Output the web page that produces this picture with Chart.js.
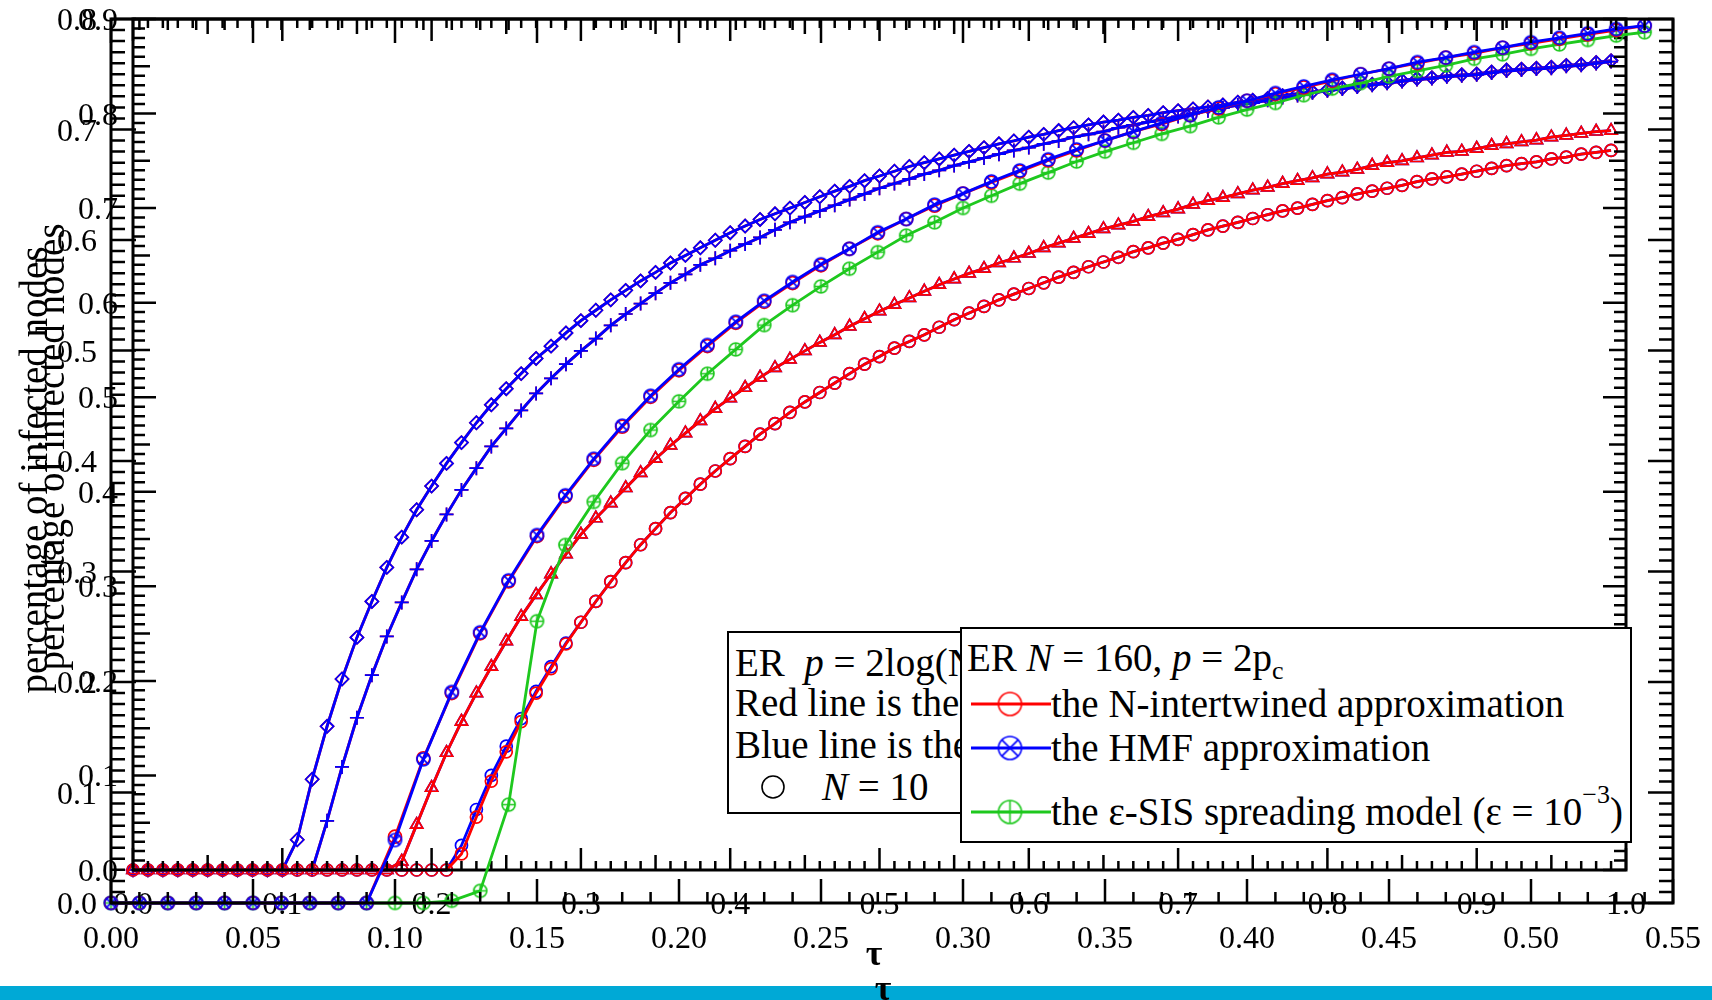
<!DOCTYPE html>
<html>
<head>
<meta charset="utf-8">
<script src="https://cdn.jsdelivr.net/npm/chart.js@4.4.1/dist/chart.umd.min.js"></script>
<style>
  body { margin: 0; background: #fff; font-family: "Liberation Serif", serif; }
  #wrap { position: relative; width: 1712px; height: 1000px; overflow: hidden; }
  canvas.plot { position: absolute; left: 0; top: 0; }
  #band { position: absolute; left: 0; top: 986px; width: 1712px; height: 14px; background: #00a9d6; }
  .box { position: absolute; box-sizing: border-box; background: #fff; border: 2.5px solid #000; overflow: hidden; }
  .row { position: absolute; white-space: nowrap; font-size: 39px; line-height: 40px; color: #000; }
  .sample { position: absolute; }
  .up { position: relative; top: -22px; font-size: 26px; }
  .dn { position: relative; top: 8px; font-size: 26px; }
</style>
</head>
<body>
<div id="wrap">
  <div id="band"></div>
  <canvas id="chartB" class="plot" width="1712" height="1000" style="z-index:1"></canvas>
  <div id="legendB" class="box" style="left:727px;top:631px;width:235px;height:183px;z-index:2">
    <div class="row" style="left:6px;top:10px">ER&nbsp;&nbsp;<i>p</i> = 2log(N)/N</div>
    <div class="row" style="left:6px;top:50px">Red line is the N-intertwined approximation</div>
    <div class="row" style="left:6px;top:92px">Blue line is the HMF approximation</div>
    <canvas id="symN10" class="sample" width="28" height="28" style="left:30px;top:140px"></canvas>
    <div class="row" style="left:93px;top:134px"><i>N</i> = 10</div>
  </div>
  <canvas id="chartA" class="plot" width="1712" height="1000" style="z-index:3"></canvas>
  <div id="legendA" class="box" style="left:960px;top:627px;width:672px;height:216px;z-index:4">
    <div class="row" style="left:5px;top:9px">ER <i>N</i> = 160, <i>p</i> = 2p<span class="dn">c</span></div>
    <canvas id="symRed" class="sample" width="80" height="30" style="left:9px;top:60px"></canvas>
    <div class="row" style="left:89px;top:55px">the N-intertwined approximation</div>
    <canvas id="symBlue" class="sample" width="80" height="30" style="left:9px;top:104px"></canvas>
    <div class="row" style="left:89px;top:99px">the HMF approximation</div>
    <canvas id="symGreen" class="sample" width="80" height="30" style="left:9px;top:168px"></canvas>
    <div class="row" style="left:89px;top:163px">the ε-SIS spreading model (ε = 10<span class="up">−3</span>)</div>
  </div>
</div>
<script>
// ---- ER N = 160 : tau grid and the three curves ----
const tauA = [0.00,0.01,0.02,0.03,0.04,0.05,0.06,0.07,0.08,0.09,
  0.10,0.11,0.12,0.13,0.14,0.15,0.16,0.17,0.18,0.19,
  0.20,0.21,0.22,0.23,0.24,0.25,0.26,0.27,0.28,0.29,
  0.30,0.31,0.32,0.33,0.34,0.35,0.36,0.37,0.38,0.39,
  0.40,0.41,0.42,0.43,0.44,0.45,0.46,0.47,0.48,0.49,
  0.50,0.51,0.52,0.53,0.54];
const aHMF = [0,0,0,0,0,0,0,0,0,0,
  0.057,0.130,0.191,0.245,0.292,0.333,0.369,0.402,0.432,0.459,
  0.483,0.505,0.526,0.545,0.562,0.578,0.592,0.607,0.619,0.632,
  0.642,0.653,0.663,0.673,0.682,0.690,0.698,0.706,0.713,0.720,
  0.726,0.733,0.739,0.745,0.750,0.755,0.761,0.765,0.770,0.774,
  0.779,0.783,0.787,0.791,0.794];
const aNIMFA = [0,0,0,0,0,0,0,0,0,0,
  0.060,0.131,0.190,0.244,0.291,0.332,0.368,0.401,0.431,0.458,
  0.482,0.504,0.525,0.544,0.561,0.577,0.592,0.606,0.619,0.631,
  0.642,0.652,0.662,0.672,0.681,0.690,0.698,0.705,0.713,0.719,
  0.726,0.732,0.738,0.744,0.750,0.755,0.760,0.765,0.769,0.774,
  0.778,0.782,0.786,0.790,0.794];
const aSIS = [0,0,0,0,0,0,0,0,0,0,
  0,0,0.002,0.011,0.089,0.255,0.324,0.363,0.398,0.428,
  0.454,0.479,0.501,0.523,0.541,0.558,0.574,0.589,0.604,0.616,
  0.629,0.640,0.651,0.661,0.671,0.680,0.688,0.696,0.703,0.711,
  0.718,0.724,0.731,0.737,0.742,0.748,0.753,0.758,0.764,0.768,
  0.773,0.777,0.781,0.785,0.788];

// ---- ER p = 2log(N)/N : tau grid and curves for several N ----
const tauB = [0.00,0.01,0.02,0.03,0.04,0.05,0.06,0.07,0.08,0.09,
  0.10,0.11,0.12,0.13,0.14,0.15,0.16,0.17,0.18,0.19,
  0.20,0.21,0.22,0.23,0.24,0.25,0.26,0.27,0.28,0.29,
  0.30,0.31,0.32,0.33,0.34,0.35,0.36,0.37,0.38,0.39,
  0.40,0.41,0.42,0.43,0.44,0.45,0.46,0.47,0.48,0.49,
  0.50,0.51,0.52,0.53,0.54,0.55,0.56,0.57,0.58,0.59,
  0.60,0.61,0.62,0.63,0.64,0.65,0.66,0.67,0.68,0.69,
  0.70,0.71,0.72,0.73,0.74,0.75,0.76,0.77,0.78,0.79,
  0.80,0.81,0.82,0.83,0.84,0.85,0.86,0.87,0.88,0.89,
  0.90,0.91,0.92,0.93,0.94,0.95,0.96,0.97,0.98,0.99];
const bDiamond = [0,0,0,0,0,0,0,0,0,0,
  0,0.032,0.096,0.152,0.202,0.246,0.284,0.320,0.352,0.381,
  0.406,0.430,0.452,0.473,0.492,0.509,0.525,0.541,0.554,0.568,
  0.581,0.592,0.603,0.613,0.623,0.632,0.642,0.650,0.658,0.666,
  0.674,0.681,0.688,0.694,0.700,0.706,0.712,0.718,0.723,0.729,
  0.734,0.739,0.744,0.748,0.752,0.756,0.760,0.764,0.768,0.771,
  0.775,0.778,0.782,0.785,0.788,0.791,0.793,0.796,0.798,0.801,
  0.803,0.805,0.807,0.809,0.812,0.814,0.816,0.819,0.821,0.823,
  0.825,0.827,0.829,0.831,0.833,0.835,0.837,0.838,0.840,0.841,
  0.842,0.844,0.846,0.847,0.848,0.849,0.851,0.852,0.854,0.856];
const bPlus = [0,0,0,0,0,0,0,0,0,0,
  0,0,0,0.052,0.109,0.161,0.206,0.247,0.283,0.318,
  0.348,0.376,0.402,0.425,0.448,0.467,0.486,0.504,0.520,0.535,
  0.549,0.562,0.576,0.588,0.599,0.610,0.621,0.630,0.640,0.647,
  0.655,0.662,0.669,0.677,0.685,0.691,0.697,0.703,0.709,0.715,
  0.721,0.726,0.731,0.736,0.740,0.745,0.749,0.753,0.757,0.761,
  0.764,0.768,0.771,0.775,0.778,0.781,0.785,0.788,0.791,0.794,
  0.797,0.800,0.803,0.806,0.809,0.811,0.814,0.817,0.819,0.822,
  0.824,0.826,0.828,0.830,0.832,0.834,0.836,0.837,0.839,0.840,
  0.841,0.843,0.845,0.846,0.847,0.848,0.850,0.851,0.853,0.855];
const bTriangle = [0,0,0,0,0,0,0,0,0,0,
  0,0,0,0,0,0,0,0,0.009,0.048,
  0.087,0.124,0.157,0.187,0.215,0.242,0.268,0.291,0.313,0.334,
  0.355,0.372,0.388,0.404,0.420,0.435,0.449,0.462,0.475,0.488,
  0.499,0.510,0.521,0.531,0.540,0.549,0.558,0.566,0.575,0.583,
  0.591,0.598,0.605,0.612,0.619,0.625,0.631,0.636,0.642,0.647,
  0.652,0.658,0.663,0.668,0.673,0.678,0.682,0.686,0.691,0.695,
  0.699,0.704,0.708,0.711,0.715,0.719,0.722,0.726,0.729,0.732,
  0.736,0.738,0.741,0.745,0.748,0.750,0.753,0.756,0.759,0.760,
  0.763,0.766,0.768,0.770,0.772,0.775,0.777,0.779,0.781,0.782];
const bCircleRed = [0,0,0,0,0,0,0,0,0,0,
  0,0,0,0,0,0,0,0,0,0,
  0,0,0.017,0.056,0.094,0.125,0.157,0.187,0.213,0.239,
  0.262,0.284,0.305,0.325,0.344,0.361,0.378,0.393,0.408,0.422,
  0.435,0.448,0.461,0.472,0.484,0.495,0.505,0.515,0.525,0.535,
  0.543,0.552,0.559,0.566,0.574,0.582,0.589,0.596,0.603,0.609,
  0.615,0.621,0.627,0.632,0.638,0.643,0.648,0.654,0.658,0.663,
  0.667,0.672,0.677,0.681,0.685,0.689,0.693,0.697,0.700,0.704,
  0.708,0.711,0.715,0.718,0.721,0.724,0.728,0.731,0.733,0.736,
  0.739,0.742,0.745,0.747,0.749,0.752,0.754,0.757,0.759,0.761];
const bCircleBlue = [0,0,0,0,0,0,0,0,0,0,
  0,0,0,0,0,0,0,0,0,0,
  0,0,0.026,0.064,0.100,0.131,0.160,0.189,0.215,0.240,
  0.262,0.284,0.305,0.325,0.344,0.361,0.378,0.393,0.408,0.422,
  0.435,0.448,0.461,0.472,0.484,0.495,0.505,0.515,0.525,0.535,
  0.543,0.552,0.559,0.566,0.574,0.582,0.589,0.596,0.603,0.609,
  0.615,0.621,0.627,0.632,0.638,0.643,0.648,0.654,0.658,0.663,
  0.667,0.672,0.677,0.681,0.685,0.689,0.693,0.697,0.700,0.704,
  0.708,0.711,0.715,0.718,0.721,0.724,0.728,0.731,0.733,0.736,
  0.739,0.742,0.745,0.747,0.749,0.752,0.754,0.757,0.759,0.761];

// tick labels
const aTauTicks = ['0.00','0.05','0.10','0.15','0.20','0.25','0.30','0.35','0.40','0.45','0.50','0.55'];
const aPctTicks = ['0.0','0.1','0.2','0.3','0.4','0.5','0.6','0.7','0.8'];
const bTauTicks = ['0.0','0.1','0.2','0.3','0.4','0.5','0.6','0.7','0.8','0.9','1.0'];
const bPctTicks = ['0.0','0.1','0.2','0.3','0.4','0.5','0.6','0.7','0.8','0.9'];

const RED = '#ff0000', BLUE = '#0000ff', GREEN = '#1ec81e';
const FONT = '"Liberation Serif"';

// circle with a cross or plus inside, used as a point style
function ringMarker(color, inner, r, lw) {
  const s = Math.ceil(2 * r + 4);
  const c = document.createElement('canvas');
  c.width = s; c.height = s;
  const g = c.getContext('2d');
  const m = s / 2;
  g.strokeStyle = color;
  g.lineWidth = lw;
  g.beginPath(); g.arc(m, m, r, 0, Math.PI * 2); g.stroke();
  g.beginPath();
  if (inner === 'x') {
    const d = r * Math.SQRT1_2;
    g.moveTo(m - d, m - d); g.lineTo(m + d, m + d);
    g.moveTo(m + d, m - d); g.lineTo(m - d, m + d);
  } else if (inner === '+') {
    g.moveTo(m, m - r); g.lineTo(m, m + r);
    g.moveTo(m - r, m); g.lineTo(m + r, m);
  }
  g.stroke();
  return c;
}

function pts(xs, ys) { return xs.map((x, i) => ({ x: x, y: ys[i] })); }

function lineSet(xs, ys, color, style, radius) {
  return {
    data: pts(xs, ys),
    borderColor: color,
    borderWidth: 2.8,
    pointStyle: style,
    pointRadius: radius,
    pointBorderColor: color,
    pointBackgroundColor: 'rgba(0,0,0,0)',
    pointBorderWidth: 1.7,
    pointHoverRadius: radius,
    fill: false,
    tension: 0,
    clip: false
  };
}

// frame, inward ticks, tick labels and titles
function decor(cfg) {
  return {
    id: 'decor',
    afterDatasetsDraw(chart) {
      const ctx = chart.ctx, a = chart.chartArea;
      const sx = chart.scales.x, sy = chart.scales.y;
      ctx.save();
      ctx.strokeStyle = '#000';
      ctx.lineWidth = 2.5;
      ctx.beginPath();
      for (let k = 0; k <= cfg.xCount; k++) {
        const px = sx.getPixelForValue(k / 100);
        const len = cfg.xLen(k);
        ctx.moveTo(px, a.bottom); ctx.lineTo(px, a.bottom - len);
        ctx.moveTo(px, a.top); ctx.lineTo(px, a.top + len);
      }
      for (let k = 0; k <= cfg.yCount; k++) {
        const py = sy.getPixelForValue(k / 100);
        const len = cfg.yLen(k);
        ctx.moveTo(a.left, py); ctx.lineTo(a.left + len, py);
        ctx.moveTo(a.right, py); ctx.lineTo(a.right - len, py);
      }
      ctx.stroke();
      ctx.lineWidth = 3;
      ctx.strokeRect(a.left, a.top, a.right - a.left, a.bottom - a.top);

      ctx.fillStyle = '#000';
      ctx.font = '32px ' + FONT;
      ctx.textBaseline = 'alphabetic';
      ctx.textAlign = 'center';
      cfg.xLabels.forEach(t => ctx.fillText(t, sx.getPixelForValue(parseFloat(t)), cfg.xLabelBase));
      ctx.textAlign = 'right';
      cfg.yLabels.forEach(t => ctx.fillText(t, cfg.yLabelRight, sy.getPixelForValue(parseFloat(t)) + 11));

      ctx.font = 'bold 36px ' + FONT;
      ctx.textAlign = 'center';
      ctx.fillText('τ', cfg.xTitle[0], cfg.xTitle[1]);

      ctx.font = '39px ' + FONT;
      ctx.translate(cfg.yTitle[0], cfg.yTitle[1]);
      ctx.rotate(-Math.PI / 2);
      ctx.textBaseline = 'middle';
      ctx.fillText('percentage of infected nodes', 0, 0);
      ctx.restore();
    }
  };
}

const baseOptions = (pad, xmax, ymax) => ({
  responsive: false,
  animation: false,
  devicePixelRatio: 1,
  layout: { padding: pad },
  scales: {
    x: { type: 'linear', min: 0, max: xmax, display: false },
    y: { type: 'linear', min: 0, max: ymax, display: false }
  },
  plugins: { legend: { display: false }, tooltip: { enabled: false } },
  events: []
});

// back plot: tau from 0 to 1
new Chart(document.getElementById('chartB'), {
  type: 'line',
  data: {
    datasets: [
      lineSet(tauB, bCircleRed, RED, 'circle', 6),
      lineSet(tauB, bCircleBlue, BLUE, 'circle', 6),
      lineSet(tauB, bTriangle, RED, 'triangle', 7),
      lineSet(tauB, bTriangle, BLUE, 'triangle', 7),
      lineSet(tauB, bPlus, BLUE, 'cross', 7),
      lineSet(tauB, bPlus, RED, 'cross', 7),
      lineSet(tauB, bDiamond, BLUE, 'rectRot', 6.5),
      lineSet(tauB, bDiamond, RED, 'rectRot', 6.5)
    ]
  },
  options: baseOptions({ left: 133, top: 19, right: 86, bottom: 130 }, 1.0, 0.9),
  plugins: [decor({
    xCount: 100, xLen: k => (k % 10 === 0 ? 22 : k % 5 === 0 ? 15 : 9),
    yCount: 90, yLen: k => (k % 10 === 0 ? 23 : k % 5 === 0 ? 17 : 12),
    xLabels: bTauTicks, xLabelBase: 914,
    yLabels: bPctTicks, yLabelRight: 118,
    xTitle: [883, 1000], yTitle: [54, 447]
  })]
});

// front plot: tau from 0 to 0.55
new Chart(document.getElementById('chartA'), {
  type: 'line',
  data: {
    datasets: [
      lineSet(tauA, aHMF, BLUE, ringMarker(BLUE, 'x', 6.5, 1.7), 6.5),
      lineSet(tauA, aNIMFA, RED, 'circle', 6.5),
      lineSet(tauA, aSIS, GREEN, ringMarker(GREEN, '+', 6.5, 1.7), 6.5)
    ]
  },
  options: baseOptions({ left: 111, top: 19, right: 39, bottom: 97 }, 0.55, 0.8),
  plugins: [decor({
    xCount: 55, xLen: k => (k % 5 === 0 ? 24 : 11),
    yCount: 80, yLen: k => (k % 10 === 0 ? 25 : 14),
    xLabels: aTauTicks, xLabelBase: 948,
    yLabels: aPctTicks, yLabelRight: 97,
    xTitle: [874, 965], yTitle: [37, 470]
  })]
});

// legend symbols
function legendSample(id, color, inner) {
  const c = document.getElementById(id), g = c.getContext('2d');
  g.strokeStyle = color; g.lineWidth = 3;
  g.beginPath(); g.moveTo(0, 15); g.lineTo(80, 15); g.stroke();
  const m = ringMarker(color, inner, 11.5, 1.6);
  g.drawImage(m, 39 - m.width / 2, 15 - m.height / 2);
}
legendSample('symRed', RED, '');
legendSample('symBlue', BLUE, 'x');
legendSample('symGreen', GREEN, '+');
(function () {
  const g = document.getElementById('symN10').getContext('2d');
  g.strokeStyle = '#000'; g.lineWidth = 1.6;
  g.beginPath(); g.arc(14, 14, 11, 0, Math.PI * 2); g.stroke();
})();
</script>
</body>
</html>
